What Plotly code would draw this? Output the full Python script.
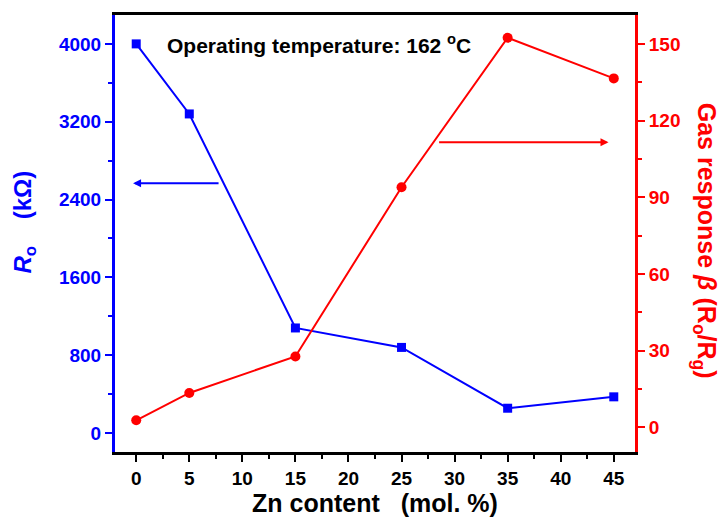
import plotly.graph_objects as go

zn = [0, 5, 15, 25, 35, 45]
r0 = [4000, 3280, 1080, 880, 255, 372]
beta = [2.7, 13.4, 27.7, 93.9, 152.4, 136.5]

x_ticks = [0, 5, 10, 15, 20, 25, 30, 35, 40, 45]
r0_ticks = [0, 800, 1600, 2400, 3200, 4000]
beta_ticks = [0, 30, 60, 90, 120, 150]

BLUE = "#0000ff"
RED = "#ff0000"
FONT = "Liberation Sans"

fig = go.Figure()
fig.add_trace(go.Scatter(x=zn, y=r0, mode="lines+markers", yaxis="y",
                         line=dict(color=BLUE, width=2),
                         marker=dict(symbol="square", size=9, color=BLUE)))
fig.add_trace(go.Scatter(x=zn, y=beta, mode="lines+markers", yaxis="y2",
                         line=dict(color=RED, width=2),
                         marker=dict(symbol="circle", size=10, color=RED)))

fig.update_layout(
    width=727, height=525, showlegend=False,
    plot_bgcolor="white", paper_bgcolor="white",
    margin=dict(l=115, r=92, t=13, b=73),
    font=dict(family=FONT),
    xaxis=dict(range=[-2, 47], tickvals=x_ticks, ticks="outside", ticklen=7, tickwidth=2,
               tickcolor="black", showline=True, linecolor="black", linewidth=3, mirror=True,
               showgrid=False, zeroline=False,
               tickfont=dict(family=FONT, size=19, color="black", weight="bold"),
               minor=dict(dtick=2.5, tick0=0, ticks="outside", ticklen=4, tickwidth=2, tickcolor="black"),
               title=dict(text="<b>Zn content   (mol. %)</b>", font=dict(family=FONT, size=25, color="black"),
                          standoff=5)),
    yaxis=dict(range=[-195, 4297], tickvals=r0_ticks, tickformat="d", ticks="outside", ticklen=7, tickwidth=2,
               tickcolor=BLUE, showline=True, linecolor=BLUE, linewidth=3,
               showgrid=False, zeroline=False,
               tickfont=dict(family=FONT, size=19, color=BLUE, weight="bold"),
               minor=dict(dtick=400, tick0=0, ticks="outside", ticklen=4, tickwidth=2, tickcolor=BLUE)),
    yaxis2=dict(range=[-9.7, 161.3], tickvals=beta_ticks, ticks="outside", ticklen=7, tickwidth=2,
                tickcolor=RED, showline=True, linecolor=RED, linewidth=3,
                overlaying="y", side="right", anchor="x",
                showgrid=False, zeroline=False,
                tickfont=dict(family=FONT, size=19, color=RED, weight="bold"),
                minor=dict(dtick=15, tick0=0, ticks="outside", ticklen=4, tickwidth=2, tickcolor=RED)),
)

# axis titles as annotations
fig.add_annotation(text="<b><i>R</i><sub>o</sub>    (kΩ)</b>", xref="paper", yref="paper",
                   x=-0.173, y=0.525, showarrow=False, textangle=-90,
                   font=dict(family=FONT, size=24, color=BLUE), xanchor="center", yanchor="middle")
fig.add_annotation(text="<b>Gas response <i>β</i> (R<sub>o</sub>/R<sub>g</sub>)</b>", xref="paper", yref="paper",
                   x=1.135, y=0.483, showarrow=False, textangle=90,
                   font=dict(family=FONT, size=25, color=RED), xanchor="center", yanchor="middle")

# inside label
fig.add_annotation(text="<b>Operating temperature: 162 <sup>o</sup>C</b>", xref="paper", yref="paper",
                   x=0.096, y=0.933, showarrow=False, xanchor="left", yanchor="middle",
                   font=dict(family=FONT, size=21, color="black"))

# arrows
fig.add_annotation(x=-0.3, y=2567, ax=7.9, ay=2567, xref="x", yref="y", axref="x", ayref="y",
                   text="", showarrow=True, arrowhead=2, arrowsize=0.8, arrowwidth=2, arrowcolor=BLUE)
fig.add_annotation(x=44.5, y=111.5, ax=28.4, ay=111.5, xref="x", yref="y2", axref="x", ayref="y2",
                   text="", showarrow=True, arrowhead=2, arrowsize=0.8, arrowwidth=2, arrowcolor=RED)

fig.write_html("out.html")
